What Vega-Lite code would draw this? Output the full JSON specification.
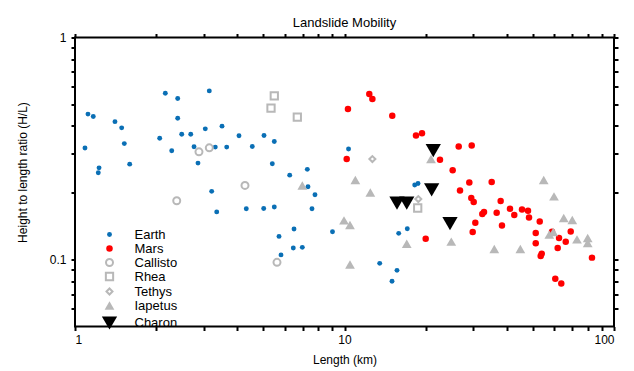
{
  "$schema": "https://vega.github.io/schema/vega-lite/v6.json",
  "width": 539,
  "height": 289,
  "autosize": {"type": "none"},
  "padding": {"left": 75, "top": 37.5, "right": 20, "bottom": 44},
  "background": "white",
  "title": {"text": "Landslide Mobility", "frame": "group", "anchor": "middle", "baseline": "alphabetic", "offset": -8.5, "font": "Liberation Sans", "fontSize": 13, "fontWeight": "normal", "color": "black"},
  "config": {
    "view": {"stroke": "black", "strokeWidth": 2},
    "axis": {"domain": false, "grid": false, "labelFont": "Liberation Sans", "labelFontSize": 12, "labelColor": "black", "titleFont": "Liberation Sans", "titleFontSize": 12, "titleFontWeight": "normal", "titleColor": "black"},
    "legend": {"labelFont": "Liberation Sans", "labelFontSize": 13, "labelColor": "black", "symbolStrokeWidth": 2}
  },
  "data": {"values": [
    {"s":"Earth","L":1.117,"R":0.452},{"s":"Earth","L":1.169,"R":0.441},{"s":"Earth","L":1.407,"R":0.418},{"s":"Earth","L":1.490,"R":0.392},
    {"s":"Earth","L":1.089,"R":0.318},{"s":"Earth","L":1.524,"R":0.333},{"s":"Earth","L":1.228,"R":0.259},{"s":"Earth","L":1.220,"R":0.246},
    {"s":"Earth","L":1.596,"R":0.269},{"s":"Earth","L":2.163,"R":0.561},{"s":"Earth","L":2.405,"R":0.531},{"s":"Earth","L":3.150,"R":0.575},
    {"s":"Earth","L":2.405,"R":0.433},{"s":"Earth","L":2.062,"R":0.352},{"s":"Earth","L":2.489,"R":0.367},{"s":"Earth","L":2.688,"R":0.367},
    {"s":"Earth","L":2.285,"R":0.309},{"s":"Earth","L":2.765,"R":0.322},{"s":"Earth","L":3.044,"R":0.388},{"s":"Earth","L":3.512,"R":0.399},
    {"s":"Earth","L":3.316,"R":0.321},{"s":"Earth","L":3.655,"R":0.321},{"s":"Earth","L":2.860,"R":0.272},{"s":"Earth","L":4.060,"R":0.361},
    {"s":"Earth","L":4.548,"R":0.323},{"s":"Earth","L":5.027,"R":0.362},{"s":"Earth","L":5.489,"R":0.340},{"s":"Earth","L":5.397,"R":0.270},
    {"s":"Earth","L":6.262,"R":0.240},{"s":"Earth","L":7.278,"R":0.255},{"s":"Earth","L":7.321,"R":0.213},{"s":"Earth","L":10.35,"R":0.315},
    {"s":"Earth","L":3.215,"R":0.203},{"s":"Earth","L":3.356,"R":0.164},{"s":"Earth","L":4.321,"R":0.1695},{"s":"Earth","L":5.014,"R":0.170},
    {"s":"Earth","L":5.489,"R":0.1725},{"s":"Earth","L":7.771,"R":0.196},{"s":"Earth","L":7.575,"R":0.1695},{"s":"Earth","L":6.496,"R":0.1374},
    {"s":"Earth","L":5.715,"R":0.1272},{"s":"Earth","L":6.457,"R":0.1129},{"s":"Earth","L":6.973,"R":0.1136},{"s":"Earth","L":5.813,"R":0.1050},
    {"s":"Earth","L":9.025,"R":0.1336},{"s":"Earth","L":18.22,"R":0.2167},{"s":"Earth","L":18.74,"R":0.2203},{"s":"Earth","L":15.89,"R":0.1313},
    {"s":"Earth","L":17.10,"R":0.1378},{"s":"Earth","L":13.51,"R":0.0962},{"s":"Earth","L":15.66,"R":0.0895},{"s":"Earth","L":15.01,"R":0.0799},
    {"s":"Mars","L":12.36,"R":0.557},{"s":"Mars","L":12.69,"R":0.528},{"s":"Mars","L":10.30,"R":0.476},{"s":"Mars","L":15.04,"R":0.444},
    {"s":"Mars","L":18.42,"R":0.362},{"s":"Mars","L":19.39,"R":0.371},{"s":"Mars","L":26.53,"R":0.323},{"s":"Mars","L":29.65,"R":0.3265},
    {"s":"Mars","L":10.19,"R":0.2836},{"s":"Mars","L":22.61,"R":0.2814},{"s":"Mars","L":25.20,"R":0.2525},{"s":"Mars","L":29.05,"R":0.2226},
    {"s":"Mars","L":35.17,"R":0.2235},{"s":"Mars","L":26.83,"R":0.2048},{"s":"Mars","L":29.54,"R":0.1894},{"s":"Mars","L":30.16,"R":0.1817},
    {"s":"Mars","L":37.97,"R":0.1836},{"s":"Mars","L":32.46,"R":0.1605},{"s":"Mars","L":32.94,"R":0.1638},{"s":"Mars","L":36.70,"R":0.1626},
    {"s":"Mars","L":41.12,"R":0.1695},{"s":"Mars","L":42.66,"R":0.1588},{"s":"Mars","L":45.57,"R":0.1683},{"s":"Mars","L":47.97,"R":0.1660},
    {"s":"Mars","L":48.38,"R":0.1549},{"s":"Mars","L":53.02,"R":0.1486},{"s":"Mars","L":30.58,"R":0.1466},{"s":"Mars","L":38.40,"R":0.1426},
    {"s":"Mars","L":29.90,"R":0.1331},{"s":"Mars","L":20.01,"R":0.1243},{"s":"Mars","L":51.24,"R":0.1318},{"s":"Mars","L":51.24,"R":0.1184},
    {"s":"Mars","L":69.09,"R":0.1340},{"s":"Mars","L":66.21,"R":0.1205},{"s":"Mars","L":61.81,"R":0.1129},{"s":"Mars","L":53.93,"R":0.1064},
    {"s":"Mars","L":53.46,"R":0.1039},{"s":"Mars","L":82.85,"R":0.1021},{"s":"Mars","L":60.55,"R":0.0821},{"s":"Mars","L":63.74,"R":0.0780},
    {"s":"Mars","L":62.52,"R":0.1252},{"s":"Mars","L":58.88,"R":0.1336},
    {"s":"Callisto","L":2.884,"R":0.3057},{"s":"Callisto","L":3.150,"R":0.3187},{"s":"Callisto","L":4.273,"R":0.2158},{"s":"Callisto","L":2.385,"R":0.1841},{"s":"Callisto","L":5.617,"R":0.0972},
    {"s":"Rhea","L":5.489,"R":0.546},{"s":"Rhea","L":5.337,"R":0.4806},{"s":"Rhea","L":6.682,"R":0.4379},{"s":"Rhea","L":18.69,"R":0.1708},
    {"s":"Tethys","L":12.69,"R":0.2836},{"s":"Tethys","L":18.79,"R":0.1874},
    {"s":"Iapetus","L":6.973,"R":0.2158},{"s":"Iapetus","L":9.957,"R":0.1502},{"s":"Iapetus","L":10.48,"R":0.1432},{"s":"Iapetus","L":10.48,"R":0.0950},
    {"s":"Iapetus","L":10.97,"R":0.2281},{"s":"Iapetus","L":12.47,"R":0.2007},{"s":"Iapetus","L":17.02,"R":0.1180},{"s":"Iapetus","L":24.90,"R":0.1205},
    {"s":"Iapetus","L":20.94,"R":0.2836},{"s":"Iapetus","L":54.85,"R":0.2281},{"s":"Iapetus","L":59.90,"R":0.1926},{"s":"Iapetus","L":65.09,"R":0.1540},
    {"s":"Iapetus","L":70.01,"R":0.1508},{"s":"Iapetus","L":57.54,"R":0.1296},{"s":"Iapetus","L":59.54,"R":0.1331},{"s":"Iapetus","L":72.90,"R":0.1234},
    {"s":"Iapetus","L":79.87,"R":0.1252},{"s":"Iapetus","L":79.87,"R":0.1189},{"s":"Iapetus","L":35.96,"R":0.1117},{"s":"Iapetus","L":44.92,"R":0.1117},
    {"s":"Charon","L":21.35,"R":0.3099},{"s":"Charon","L":21.06,"R":0.2063},{"s":"Charon","L":15.66,"R":0.1798},{"s":"Charon","L":17.02,"R":0.1798},{"s":"Charon","L":24.63,"R":0.1451}
  ]},
  "resolve": {"axis": {"x": "independent", "y": "independent"}},
  "layer": [
    {
      "mark": {"type": "point", "filled": true, "strokeWidth": 2, "opacity": 1},
      "encoding": {
        "x": {"field": "L", "type": "quantitative", "scale": {"type": "log", "domain": [1, 100], "nice": false}, "title": "Length (km)",
              "axis": {"orient": "bottom", "values": [1,2,3,4,5,6,7,8,9,10,20,30,40,50,60,70,80,90,100], "ticks": true, "tickSize": 4, "tickColor": "black", "tickWidth": 2,
                       "labelPadding": 4, "labelFlush": true, "labelExpr": "indexof([1, 10, 100], datum.value) >= 0 ? format(datum.value, '~g') : ''", "titleY": 33, "titleBaseline": "middle"}},
        "y": {"field": "R", "type": "quantitative", "scale": {"type": "log", "domain": [0.05, 1], "nice": false}, "title": "Height to length ratio (H/L)",
              "axis": {"orient": "left", "values": [0.06,0.07,0.08,0.09,0.1,0.2,0.3,0.4,0.5,0.6,0.7,0.8,0.9,1], "ticks": true, "tickSize": 4, "tickColor": "black", "tickWidth": 2,
                       "labelPadding": 5, "labelExpr": "datum.value == 0.1 || datum.value == 1 ? format(datum.value, '~g') : ''", "titleX": -53, "titleY": 134.5, "titleAngle": -90, "titleBaseline": "middle", "titleAlign": "center"}},
        "shape": {"field": "s", "type": "nominal", "title": null,
                  "scale": {"type": "ordinal", "domain": ["Earth","Mars","Callisto","Rhea","Tethys","Iapetus","Charon"], "range": ["circle","circle","circle","square","diamond","triangle-up","triangle-down"]},
                  "legend": {"orient": "none", "legendX": 25.5, "legendY": 190.5, "padding": 0, "rowPadding": -2.5, "labelOffset": 16}},
        "fill": {"field": "s", "type": "nominal", "title": null,
                 "scale": {"type": "ordinal", "domain": ["Earth","Mars","Callisto","Rhea","Tethys","Iapetus","Charon"], "range": ["#0a6fb5","#ff0000","transparent","transparent","transparent","#b8b8b8","#000000"]}},
        "stroke": {"field": "s", "type": "nominal", "title": null,
                   "scale": {"type": "ordinal", "domain": ["Earth","Mars","Callisto","Rhea","Tethys","Iapetus","Charon"], "range": ["transparent","transparent","#b8b8b8","#b8b8b8","#b8b8b8","transparent","transparent"]}},
        "size": {"field": "s", "type": "nominal", "title": null,
                 "scale": {"type": "ordinal", "domain": ["Earth","Mars","Callisto","Rhea","Tethys","Iapetus","Charon"], "range": [24, 42, 49, 53, 36, 95, 234]}}
      }
    },
    {
      "mark": {"type": "point", "opacity": 0},
      "encoding": {
        "x": {"field": "L", "type": "quantitative", "scale": {"type": "log", "domain": [1, 100], "nice": false},
              "axis": {"orient": "top", "values": [1,2,3,4,5,6,7,8,9,10,20,30,40,50,60,70,80,90,100], "ticks": true, "tickSize": 4, "tickColor": "black", "tickWidth": 2, "labels": false, "title": null}},
        "y": {"field": "R", "type": "quantitative", "scale": {"type": "log", "domain": [0.05, 1], "nice": false},
              "axis": {"orient": "right", "values": [0.06,0.07,0.08,0.09,0.1,0.2,0.3,0.4,0.5,0.6,0.7,0.8,0.9,1], "ticks": true, "tickSize": 4, "tickColor": "black", "tickWidth": 2, "labels": false, "title": null}}
      }
    }
  ]
}
